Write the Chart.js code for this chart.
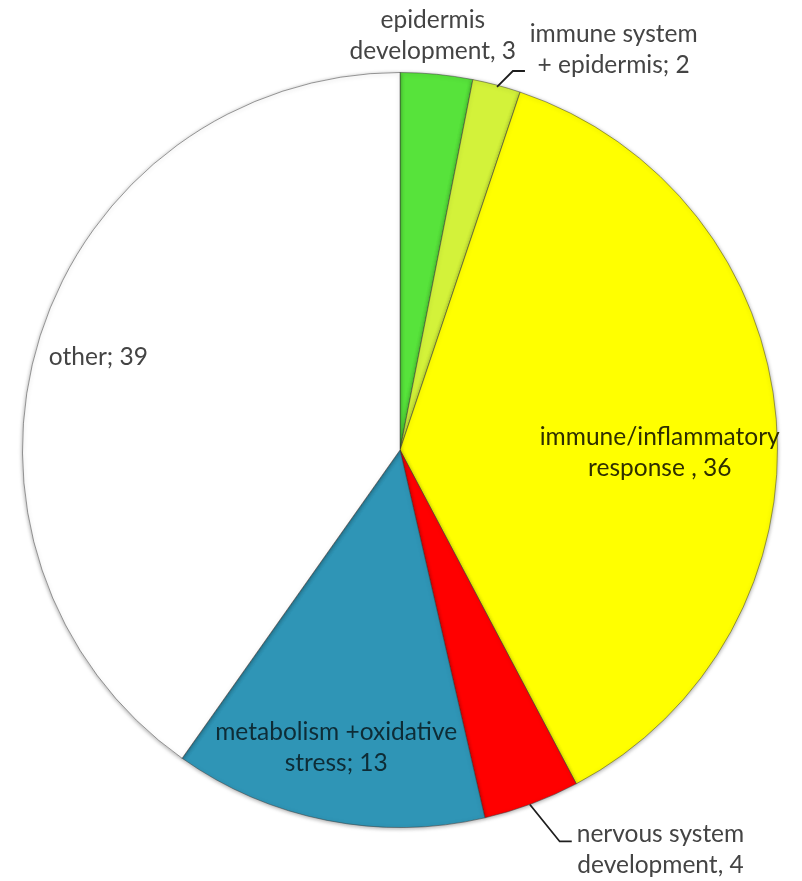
<!DOCTYPE html>
<html>
<head>
<meta charset="utf-8">
<script src="https://cdn.jsdelivr.net/npm/chart.js@4"></script>
<style>
  html, body { margin: 0; padding: 0; background: #ffffff; }
  #wrap { width: 802px; height: 881px; }
</style>
</head>
<body>
<div id="wrap"><canvas id="c" width="802" height="881"></canvas></div>
<script>
// Gene-function categories, clockwise from 12 o'clock
const categories = [
  'epidermis development',
  'immune system + epidermis',
  'immune/inflammatory response',
  'nervous system development',
  'metabolism +oxidative stress',
  'other'
];
const counts = [3, 2, 36, 4, 13, 39];

// Label text lines (the number is appended from counts)
const labelLines = [
  ['epidermis', 'development, '],
  ['immune system', '+ epidermis; '],
  ['immune/inflammatory', 'response , '],
  ['nervous system', 'development, '],
  ['metabolism +oxidative', 'stress; '],
  ['other; ']
];

const sliceColors = ['#57e33b', '#d3f23a', '#ffff00', '#ff0000', '#2f95b6', '#ffffff'];

// label anchor offsets from the pie centre, as fractions of the radius
const labelAnchors = [
  { dx: 0.087, dy: -1.098 },
  { dx: 0.566, dy: -1.061 },
  { dx: 0.688, dy: 0.008 },
  { dx: 0.69,  dy: 1.058 },
  { dx: -0.169, dy: 0.788 },
  { dx: -0.799, dy: -0.246 }
];
// leader lines (fractions of radius), drawn for the outside labels
const leaders = {
  1: [[0.257, -0.962], [0.299, -1.004], [0.331, -1.004]],
  3: [[0.344, 0.939], [0.423, 1.037], [0.455, 1.037]]
};
const textColors = ['#444444', '#444444', '#2e2e00', '#444444', '#0e2c36', '#444444'];

// soft shadow round the slices, giving the edges some depth
const shadePlugin = {
  id: 'sliceShade',
  beforeDatasetsDraw(chart) {
    const ctx = chart.ctx;
    ctx.save();
    ctx.shadowColor = 'rgba(0,0,0,0.35)';
    ctx.shadowBlur = 4;
    ctx.shadowOffsetY = 1;
  },
  afterDatasetsDraw(chart) {
    chart.ctx.restore();
  }
};

const labelPlugin = {
  id: 'sliceLabels',
  afterDraw(chart) {
    const meta = chart.getDatasetMeta(0);
    const arc0 = meta.data[0];
    const cx = arc0.x, cy = arc0.y, R = arc0.outerRadius;
    const ctx = chart.ctx;
    ctx.save();
    ctx.strokeStyle = '#1e1e1e';
    ctx.lineWidth = 1.8;
    Object.keys(leaders).forEach(k => {
      const pts = leaders[k];
      ctx.beginPath();
      pts.forEach((p, i) => {
        const x = cx + p[0] * R, y = cy + p[1] * R;
        if (i === 0) ctx.moveTo(x, y); else ctx.lineTo(x, y);
      });
      ctx.stroke();
    });
    ctx.font = '24.5px Lato, "Open Sans", sans-serif';
    ctx.textAlign = 'center';
    ctx.textBaseline = 'middle';
    const lh = 31;
    labelLines.forEach((lines, i) => {
      const a = labelAnchors[i];
      const x = cx + a.dx * R;
      const y = cy + a.dy * R;
      ctx.fillStyle = textColors[i];
      const n = lines.length;
      lines.forEach((ln, j) => {
        const txt = j === n - 1 ? ln + counts[i] : ln;
        ctx.fillText(txt, x, y + (j - (n - 1) / 2) * lh);
      });
    });
    ctx.restore();
  }
};

new Chart(document.getElementById('c'), {
  type: 'pie',
  data: {
    labels: categories,
    datasets: [{
      data: counts,
      backgroundColor: sliceColors,
      borderColor: 'rgba(60,60,60,0.5)',
      borderWidth: 1
    }]
  },
  options: {
    responsive: false,
    animation: false,
    layout: { padding: { left: 22, right: 24, top: 72, bottom: 53 } },
    plugins: {
      legend: { display: false },
      tooltip: { enabled: false }
    }
  },
  plugins: [shadePlugin, labelPlugin]
});
</script>
</body>
</html>
